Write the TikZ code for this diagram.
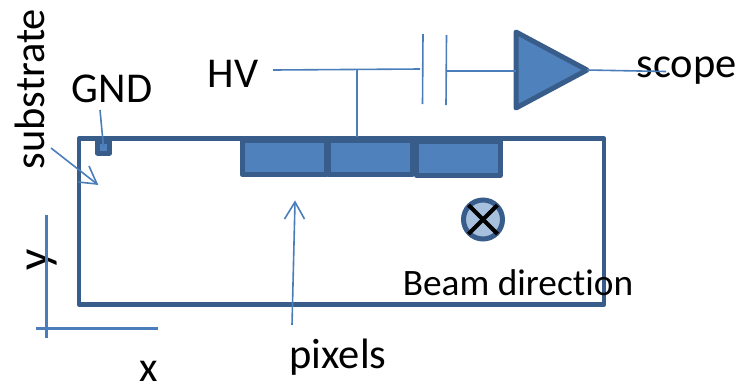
\documentclass[tikz,border=0pt]{standalone}
\usepackage{fontspec}
\setmainfont[Ligatures={NoCommon}]{Carlito}
\usetikzlibrary{calc}
\definecolor{edgeblue}{HTML}{385D8A}
\definecolor{fillblue}{HTML}{4F81BD}
\definecolor{lineblue}{HTML}{4A7EBB}
\definecolor{paleblue}{HTML}{A7C0DE}
\tikzset{
  lab/.style={inner sep=0pt,text=black,font=\fontsize{42.5}{42.5}\selectfont},
  labsmall/.style={inner sep=0pt,text=black,font=\fontsize{37.3}{37.3}\selectfont},
  laby/.style={inner sep=0pt,text=black,font=\fontsize{47}{47}\selectfont},
  thick box/.style={draw=edgeblue,line width=4.6pt,line join=round},
  pixelbox/.style={thick box,line width=5pt,fill=fillblue,rectangle,inner sep=0pt,minimum width=84pt,minimum height=34pt},
  wire/.style={draw=lineblue,line width=1.6pt},
  axisline/.style={draw=lineblue,line width=3pt}
}
\begin{document}
\begin{tikzpicture}[x=1pt,y=-1pt]
\useasboundingbox (0,0) rectangle (741,384);
% labels
\node[lab,rotate=90] (substrate) at (30,89) {substrate};
\node[lab] (gnd) at (112,89) {GND};
\node[lab] (hv) at (233,74) {HV};
\node[lab] (scope) at (686.5,71) {scope};
\node[lab] (xlab) at (149,371.5) {x};
\node[laby,rotate=90] (ylab) at (42,260) {y};
\node[lab] (pixels) at (338,357) {pixels};
% substrate box
\node[thick box,rectangle,inner sep=0pt,minimum width=525pt,minimum height=166pt] (sub) at (341.5,221.5) {};
\node[pixelbox] (p1) at (284,157.5) {};
\node[pixelbox] (p2) at (370.5,157.5) {};
\node[pixelbox] (p3) at (458.5,158.5) {};
\node[labsmall] (beam) at (518,283) {Beam direction};
% GND pad
\node[draw=edgeblue,line width=5pt,line join=round,fill=fillblue,rectangle,inner sep=0pt,minimum size=12pt] (pad) at (103.5,147) {};
% circuit points
\coordinate (hvstart) at (273,70);
\coordinate (hvend) at (420,69);
\coordinate (tap) at (357,69.5);
\coordinate (tapend) at (357,137);
\coordinate (c1t) at (423,34);
\coordinate (c1b) at (422.5,104);
\coordinate (c2t) at (446.5,35);
\coordinate (c2b) at (446,105);
\coordinate (c2w) at (447,71);
\coordinate (gndw) at (100,110);
\coordinate (scopeend) at (666,71.5);
% amplifier
\draw[thick box,fill=fillblue,line width=5pt] (516,32) coordinate (a1) -- (587,70) coordinate (atip) -- (516,108) coordinate (a2) -- cycle;
\coordinate (ain) at (516,71);
% wires
\draw[wire] (hvstart) -- (hvend);
\draw[wire] (tap) -- (tapend);
\draw[wire] (c1t) -- (c1b);
\draw[wire] (c2t) -- (c2b);
\draw[wire] (c2w) -- (ain);
\draw[wire] (atip) -- (scopeend);
\draw[wire] (gndw) -- (pad.center);
% arrows
\coordinate (sa) at (51,148);
\coordinate (sb) at (97,184);
\draw[wire] (sa) -- (sb);
\draw[wire] (89,166) -- (sb) -- (78,182);
\coordinate (pa) at (292,325);
\coordinate (pb) at (295,202);
\draw[wire] (pa) -- (pb);
\draw[wire] (284.5,219) -- (pb) -- (304.5,219);
% axes
\draw[axisline] (46,215) -- (46,338);
\draw[axisline] (36,328) -- (158,328);
% beam symbol
\node[circle,draw=edgeblue,fill=paleblue,line width=5pt,inner sep=0pt,minimum size=39pt] (beamdot) at (483,219.5) {};
\draw[black,line width=4pt] ($(beamdot.center)+(-14.5,-14.5)$) -- ($(beamdot.center)+(14.5,14.5)$);
\draw[black,line width=4pt] ($(beamdot.center)+(14.5,-14.5)$) -- ($(beamdot.center)+(-14.5,14.5)$);
\end{tikzpicture}
\end{document}
